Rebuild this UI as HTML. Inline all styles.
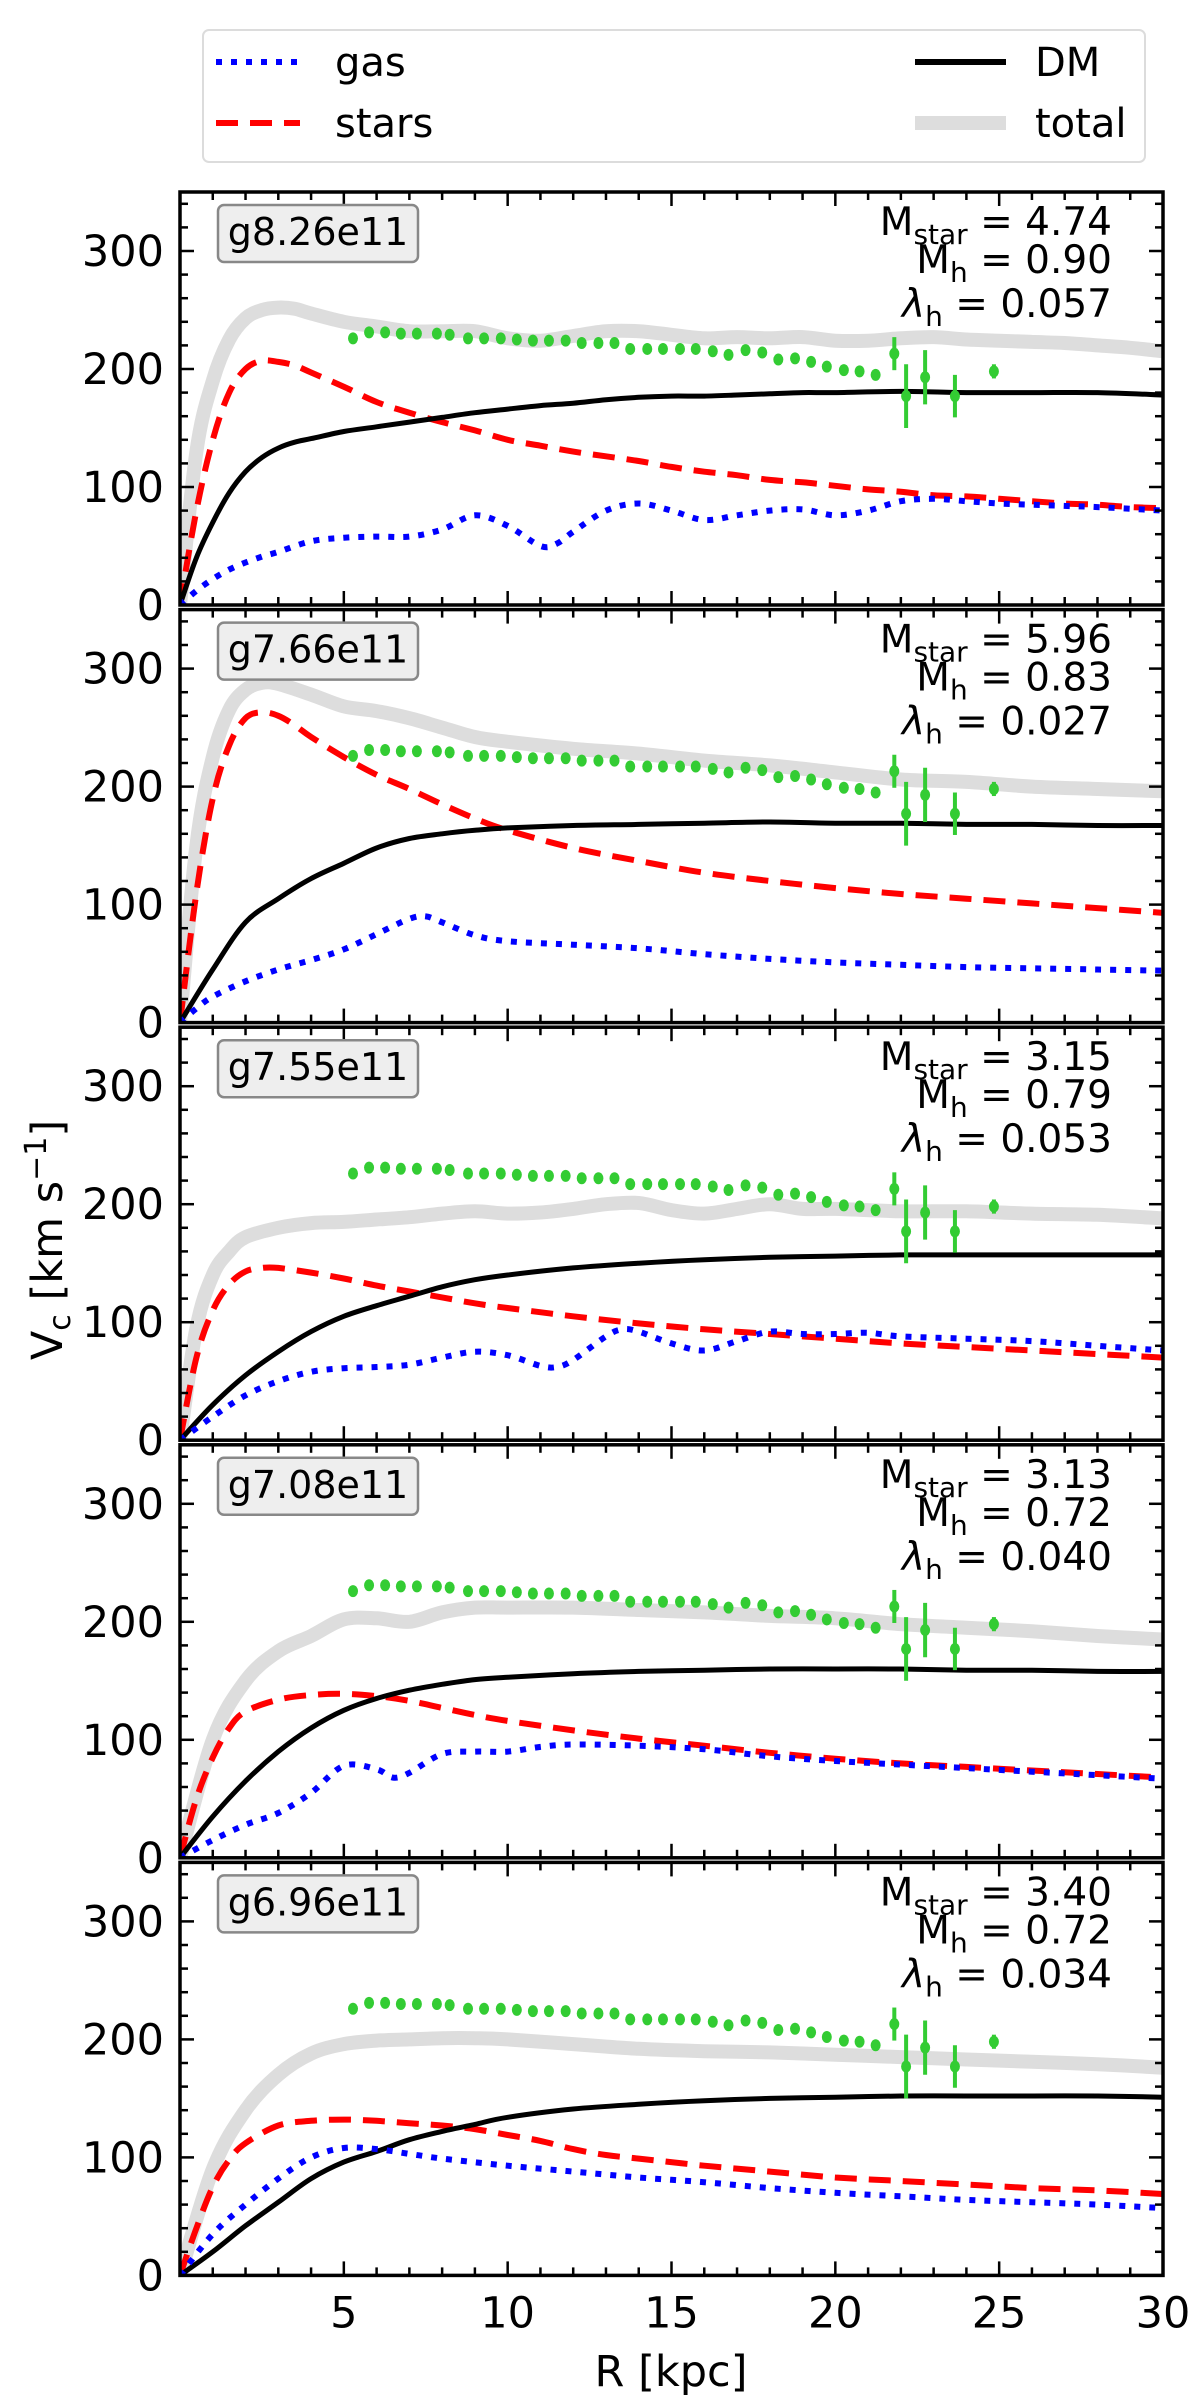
<!DOCTYPE html>
<html><head><meta charset="utf-8"><style>
html,body{margin:0;padding:0;background:#fff}
svg{display:block;font-family:"DejaVu Sans","Liberation Sans",sans-serif}
</style></head><body>
<svg id="chart" width="1200" height="2400" viewBox="0 0 1200 2400" xmlns="http://www.w3.org/2000/svg">
<g>
<rect x="203" y="30" width="942" height="132" rx="6" fill="#fff" stroke="#dcdcdc" stroke-width="2"/>
<g><line x1="216" y1="62" x2="300" y2="62" stroke="#0000ff" stroke-width="6" stroke-dasharray="6,9"/><text x="335" y="76" font-size="40">gas</text></g>
<g><line x1="216" y1="123" x2="300" y2="123" stroke="#ff0000" stroke-width="6" stroke-dasharray="22,12"/><text x="335" y="137" font-size="40">stars</text></g>
<g><line x1="915" y1="62" x2="1006" y2="62" stroke="#000" stroke-width="6"/><text x="1035" y="76" font-size="40">DM</text></g>
<g><line x1="915" y1="123" x2="1006" y2="123" stroke="#dddddd" stroke-width="14"/><text x="1035" y="137" font-size="40">total</text></g>
</g>
<g id="panels"></g>
<text transform="translate(62,1240) rotate(-90)" text-anchor="middle" font-size="43">V<tspan font-size="30" dy="8">c</tspan><tspan dy="-8"> [km s</tspan><tspan font-size="30" dy="-16">−1</tspan><tspan dy="16">]</tspan></text>
<text x="671" y="2386" text-anchor="middle" font-size="43">R [kpc]</text>
</svg>
<script>
// Observational data (same in every panel)
const obsR = [5.28,5.77,6.26,6.74,7.23,7.84,8.23,8.79,9.28,9.79,10.28,10.77,11.26,11.77,12.26,12.77,13.26,13.74,14.26,14.74,15.26,15.74,16.26,16.74,17.26,17.77,18.26,18.77,19.26,19.74,20.26,20.74,21.23];
const obsV = [226,231,231,230,230,230,229,226,226,226,225,224,224,224,222,222,222,217,217,217,217,217,215,212,216,214,208,209,206,202,199,198,195];
const errR = [21.8,22.16,22.74,23.65,24.84];
const errV = [213,177,193,177,198];
const errE = [14,27,23,18,6];

const galaxyNames = ["g8.26e11","g7.66e11","g7.55e11","g7.08e11","g6.96e11"];
const mStar = ["4.74","5.96","3.15","3.13","3.40"];
const mHalo = ["0.90","0.83","0.79","0.72","0.72"];
const lambdaH = ["0.057","0.027","0.053","0.040","0.034"];

const xTicks = [5,10,15,20,25,30];
const yTicks = [0,100,200,300];

// Panel 1
const p1R_total=[0,0.5,1,1.5,2,2.5,3,3.5,4,5,6,7,8,9,10,11,12,13,14,15,16,17,18,19,20,21,22,23,24,25,26,27,28,29,30];
const p1V_total=[0,130,190,225,243,250,252,251,247,240,236,232,232,232,226,224,228,232,232,229,226,227,226,227,224,224,226,227,225,224,223,222,220,218,215];
const p1R_stars=[0,0.5,1,1.5,2,2.5,3,3.5,4,5,6,7,8,9,10,11,12,13,14,15,16,17,18,19,20,21,22,23,24,25,26,27,28,29,30];
const p1V_stars=[0,80,140,180,200,207,206,203,197,185,172,163,155,148,140,135,130,126,122,117,113,110,106,104,101,98,96,93,92,90,88,86,85,83,82];
const p1R_dm=[0,0.5,1,1.5,2,2.5,3,3.5,4,5,6,7,8,9,10,11,12,13,14,15,16,17,18,19,20,22,24,26,28,30];
const p1V_dm=[0,40,70,95,113,125,133,138,141,147,151,155,159,163,166,169,171,174,176,177,177,178,179,180,180,181,180,180,180,178];
const p1R_gas=[0,0.5,1,1.5,2,2.5,3,4,5,6,7,8,9,10,11,11.5,12,13,14,15,16,17,18,19,20,21,22,23,24,25,26,27,28,30];
const p1V_gas=[0,12,22,30,36,41,45,54,57,58,58,64,76,67,50,52,62,80,86,80,72,76,80,81,76,80,88,90,88,86,85,84,83,80];
// Panel 2
const p2R_total=[0,0.5,1,1.5,2,2.5,3,4,5,6,7,8,9,10,12,14,16,18,20,22,24,26,28,30];
const p2V_total=[0,150,225,265,282,288,287,278,268,264,258,250,242,238,232,228,222,218,212,206,204,200,198,196];
const p2R_stars=[0,0.5,1,1.5,2,2.5,3,3.5,4,5,6,7,8,9,10,12,14,16,18,20,22,24,26,28,30];
const p2V_stars=[0,110,190,235,258,263,260,252,242,225,210,198,185,173,163,148,137,127,120,114,109,105,101,97,93];
const p2R_dm=[0,1,2,3,4,5,6,7,8,9,10,12,14,16,18,20,22,24,26,28,30];
const p2V_dm=[0,45,85,105,122,135,148,156,160,163,165,167,168,169,170,169,169,168,168,167,167];
const p2R_gas=[0,0.5,1,2,3,4,5,6,7,7.5,8,9,10,12,14,16,18,20,22,24,26,28,30];
const p2V_gas=[0,12,22,35,45,53,62,75,88,90,85,74,69,66,63,58,54,51,49,47,46,45,44];
// Panel 3
const p3R_total=[0,0.5,1,1.5,2,3,4,5,6,7,8,9,10,11,12,13,14,15,16,17,18,19,20,22,24,26,28,30];
const p3V_total=[0,95,140,160,172,180,184,185,187,189,192,194,192,193,196,200,201,195,192,196,200,196,196,194,194,192,191,188];
const p3R_stars=[0,0.5,1,1.5,2,2.5,3,4,5,6,7,8,9,10,12,14,16,18,20,22,24,26,28,30];
const p3V_stars=[0,70,110,132,143,146,146,142,137,131,126,121,116,112,105,99,94,90,86,82,79,76,73,70];
const p3R_dm=[0,1,2,3,4,5,6,7,8,9,10,12,14,16,18,20,22,24,26,28,30];
const p3V_dm=[0,30,55,75,92,105,114,122,130,136,140,146,150,153,155,156,157,157,157,157,157];
const p3R_gas=[0,1,2,3,4,5,6,7,8,9,10,11,11.5,12,13,13.5,14,15,16,17,18,19,20,21,22,24,26,28,30];
const p3V_gas=[0,20,38,50,58,61,62,64,70,75,72,63,62,68,88,94,92,82,76,84,92,90,90,91,88,86,84,80,76];
// Panel 4
const p4R_total=[0,1,2,3,4,5,6,7,8,9,10,12,14,16,18,20,22,24,26,28,30];
const p4V_total=[0,100,150,175,188,202,203,200,208,212,212,212,210,208,205,203,198,195,192,188,185];
const p4R_stars=[0,0.5,1,1.5,2,3,4,5,6,7,8,9,10,12,14,16,18,20,22,24,26,28,30];
const p4V_stars=[0,50,85,110,124,134,138,139,137,133,127,121,116,108,101,95,89,84,80,77,74,71,68];
const p4R_dm=[0,1,2,3,4,5,6,7,8,9,10,12,14,16,18,20,22,24,26,28,30];
const p4V_dm=[0,35,65,90,110,125,135,142,147,151,153,156,158,159,160,160,160,159,159,158,158];
const p4R_gas=[0,1,2,3,4,5,6,6.5,7,8,9,10,11,12,14,16,18,20,22,24,26,28,30];
const p4V_gas=[0,15,28,38,55,78,75,68,72,88,90,90,94,96,95,92,86,82,79,76,73,70,67];
// Panel 5
const p5R_total=[0,1,2,3,4,5,6,7,8,9,10,12,14,16,18,20,22,24,26,28,30];
const p5V_total=[0,90,140,170,188,196,199,200,201,201,200,196,192,190,189,187,185,183,181,179,176];
const p5R_stars=[0,0.5,1,1.5,2,3,4,5,6,7,8,9,10,11,12,13,14,16,18,20,22,24,26,28,30];
const p5V_stars=[0,40,75,98,112,127,131,132,131,129,127,124,119,114,107,102,99,93,88,83,80,77,74,72,69];
const p5R_dm=[0,1,2,3,4,5,6,7,8,9,10,12,14,16,18,20,22,24,26,28,30];
const p5V_dm=[0,20,42,62,82,96,105,115,122,128,134,141,145,148,150,151,152,152,152,152,151];
const p5R_gas=[0,1,2,3,4,5,6,7,8,10,12,14,16,18,20,22,24,26,28,30];
const p5V_gas=[0,35,60,82,100,108,107,103,99,93,88,83,79,74,70,67,64,62,60,57];

const panelsR = [
 [p1R_total,p1R_stars,p1R_dm,p1R_gas],[p2R_total,p2R_stars,p2R_dm,p2R_gas],
 [p3R_total,p3R_stars,p3R_dm,p3R_gas],[p4R_total,p4R_stars,p4R_dm,p4R_gas],
 [p5R_total,p5R_stars,p5R_dm,p5R_gas]];
const panelsV = [
 [p1V_total,p1V_stars,p1V_dm,p1V_gas],[p2V_total,p2V_stars,p2V_dm,p2V_gas],
 [p3V_total,p3V_stars,p3V_dm,p3V_gas],[p4V_total,p4V_stars,p4V_dm,p4V_gas],
 [p5V_total,p5V_stars,p5V_dm,p5V_gas]];

const NS="http://www.w3.org/2000/svg";
const L=180,Rr=1163,H=413,PITCH=417.6,TOP0=192,XMAX=30,YMAX=350;
function xs(r){return L+(r/XMAX)*(Rr-L);}
function ys(top){return v=>top+H-(v/YMAX)*H;}
function mk(tag,attrs,parent){const e=document.createElementNS(NS,tag);for(const k in attrs)e.setAttribute(k,attrs[k]);parent.appendChild(e);return e;}
function smooth(pts){
  if(pts.length<2)return "";
  let d="M"+pts[0][0].toFixed(1)+","+pts[0][1].toFixed(1);
  for(let i=0;i<pts.length-1;i++){
    const p0=pts[Math.max(i-1,0)],p1=pts[i],p2=pts[i+1],p3=pts[Math.min(i+2,pts.length-1)];
    const c1=[p1[0]+(p2[0]-p0[0])/6,p1[1]+(p2[1]-p0[1])/6];
    const c2=[p2[0]-(p3[0]-p1[0])/6,p2[1]-(p3[1]-p1[1])/6];
    d+="C"+c1[0].toFixed(1)+","+c1[1].toFixed(1)+" "+c2[0].toFixed(1)+","+c2[1].toFixed(1)+" "+p2[0].toFixed(1)+","+p2[1].toFixed(1);
  }
  return d;
}
const styles=[
 {name:"total",stroke:"#dddddd",w:14,dash:null},
 {name:"stars",stroke:"#ff0000",w:6,dash:"22,12"},
 {name:"dm",stroke:"#000000",w:5,dash:null},
 {name:"gas",stroke:"#0000ff",w:6,dash:"6,9"}];
const root=document.getElementById('panels');
for(let p=0;p<5;p++){
  const top=TOP0+p*PITCH, y=ys(top);
  const g=mk('g',{},root);
  
  
  const cid='clip'+p;
  const cp=mk('clipPath',{id:cid},g);
  mk('rect',{x:L,y:top-10,width:Rr-L,height:H+10},cp);
  const lines=mk('g',{'clip-path':'url(#'+cid+')'},g);
  for(let s=0;s<4;s++){
    const R=panelsR[p][s],V=panelsV[p][s];
    const pts=R.map((r,i)=>[xs(r),y(V[i])]);
    const a={d:smooth(pts),fill:"none",stroke:styles[s].stroke,'stroke-width':styles[s].w,'stroke-linejoin':'round'};
    if(styles[s].dash)a['stroke-dasharray']=styles[s].dash;
    const path=mk('path',a,lines);
    
    
  }
  const og=mk('g',{fill:'#33cc33'},g);
  
  
  obsR.forEach((r,i)=>{
    const c=mk('ellipse',{cx:xs(r),cy:y(obsV[i]),rx:5,ry:6},og);
    
    
  });
  mk('line',{x1:xs(obsR[obsR.length-1]),x2:xs(obsR[obsR.length-1]),y1:y(obsV[obsV.length-1]+4),y2:y(obsV[obsV.length-1]-4),stroke:'#33cc33','stroke-width':4},og);
  errR.forEach((r,i)=>{
    const eb=mk('line',{x1:xs(r),x2:xs(r),y1:y(errV[i]+errE[i]),y2:y(errV[i]-errE[i]),stroke:'#33cc33','stroke-width':4},og);
    
    
    mk('ellipse',{cx:xs(r),cy:y(errV[i]),rx:5,ry:6},og);
  });
  const tg=mk('g',{stroke:'#000','stroke-width':2.5},g);
  
  
  for(let r=1;r<XMAX;r++){
    const len=(r%5===0)?14:8, X=xs(r);
    mk('line',{x1:X,x2:X,y1:top+H,y2:top+H-len},tg);
    mk('line',{x1:X,x2:X,y1:top,y2:top+len},tg);
  }
  for(let v=20;v<YMAX;v+=20){
    const len=(v%100===0)?14:8, Y=y(v);
    mk('line',{x1:L,x2:L+len,y1:Y,y2:Y},tg);
    mk('line',{x1:Rr,x2:Rr-len,y1:Y,y2:Y},tg);
  }
  const fr=mk('rect',{x:L,y:top,width:Rr-L,height:H,fill:'none',stroke:'#000','stroke-width':3.5},g);
  
  
  yTicks.forEach(v=>{
    const t=mk('text',{x:164,y:y(v)+15,'text-anchor':'end','font-size':43},g);
    t.textContent=String(v);
    
    
  });
  if(p===4){
    xTicks.forEach(r=>{
      const t=mk('text',{x:xs(r),y:top+H+52,'text-anchor':'middle','font-size':43},g);
      t.textContent=String(r);
      
      
    });
  }
  const lb=mk('rect',{x:218,y:top+13,width:200,height:57,rx:6,fill:'#eeeeee',stroke:'#888','stroke-width':2.5},g);
  
  
  const lt=mk('text',{x:318,y:top+53,'text-anchor':'middle','font-size':38},g);
  lt.textContent=galaxyNames[p];
  
  
  const ann=[["M","star"," = "+mStar[p],43],["M","h"," = "+mHalo[p],81],["λ","h"," = "+lambdaH[p],125]];
  ann.forEach(a=>{
    const t=mk('text',{x:1112,y:top+a[3],'text-anchor':'end','font-size':39},g);
    
    
    const s1=mk('tspan',{},t);s1.textContent=a[0];
    if(a[0]==="λ")s1.setAttribute('font-style','italic');
    const s2=mk('tspan',{'font-size':28,dy:9},t);s2.textContent=a[1];
    const s3=mk('tspan',{dy:-9},t);s3.textContent=a[2];
  });
}
</script>
</body></html>
